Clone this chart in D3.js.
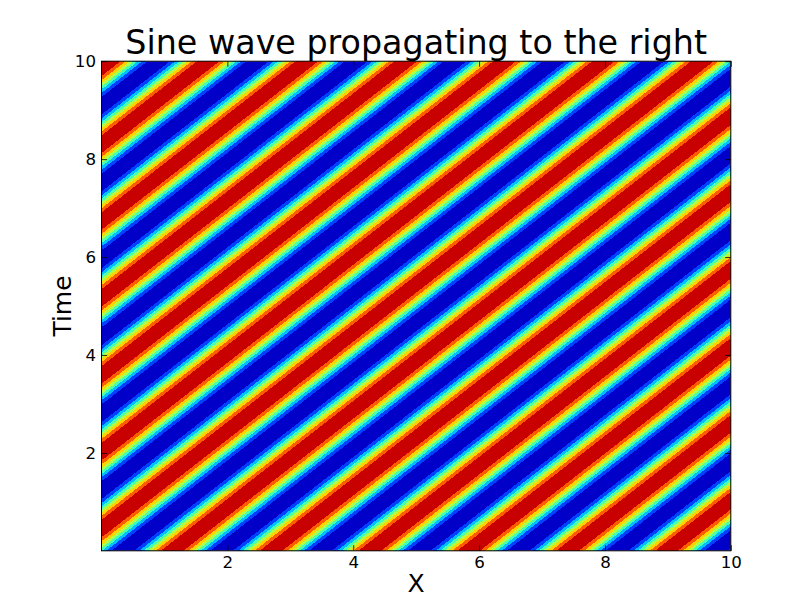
<!DOCTYPE html>
<html>
<head>
<meta charset="utf-8">
<script src="https://cdn.jsdelivr.net/npm/d3@7"></script>
<style>
  body { margin: 0; background: #fff; }
  text { font-family: "DejaVu Sans", sans-serif; fill: #000; }
</style>
</head>
<body>
<svg id="chart" width="812" height="612"></svg>
<script>
// wave: crests repeat every ~1.57 in x and ~1.57 in time
var waveNumber = 4;
var angularFreq = 4;
var phase = 1.8;
var xExtent = [0, 10];
var tExtent = [0, 10];
var levels = [-1, -0.75, -0.5, -0.25, 0, 0.25, 0.5, 0.75, 1];
var xTicks = [2, 4, 6, 8, 10];
var tTicks = [2, 4, 6, 8, 10];
var gridSize = 240;

// jet colours for the 8 filled bands, lowest first
var palette = ['#0000c8', '#0040ff', '#00bfff', '#48ffaf', '#afff48', '#ffd200', '#ff5c00', '#c80000'];

var svg = d3.select('#chart');
var margin = {top: 61.2, right: 81.2, bottom: 61.2, left: 101.5};
var width = 812 - margin.left - margin.right;
var height = 612 - margin.top - margin.bottom;

var x = d3.scaleLinear().domain(xExtent).range([0, width]);
var y = d3.scaleLinear().domain(tExtent).range([height, 0]);

var g = svg.append('g')
    .attr('transform', 'translate(' + margin.left + ',' + margin.top + ')');

// sample the wave on a grid (values sit at cell centres)
var dx = (xExtent[1] - xExtent[0]) / gridSize;
var dt = (tExtent[1] - tExtent[0]) / gridSize;
var values = new Array(gridSize * gridSize);
for (var j = 0; j < gridSize; j++) {
    var t = tExtent[0] + (j + 0.5) * dt;
    for (var i = 0; i < gridSize; i++) {
        var xv = xExtent[0] + (i + 0.5) * dx;
        values[j * gridSize + i] = Math.cos(waveNumber * xv - angularFreq * t + phase);
    }
}

var contours = d3.contours().size([gridSize, gridSize]).smooth(true);

// grid coords -> data -> pixels
var gridToPixels = d3.geoTransform({
    point: function(gx, gy) {
        this.stream.point(x(xExtent[0] + gx * dx), y(tExtent[0] + gy * dt));
    }
});
var path = d3.geoPath(gridToPixels);

g.append('clipPath').attr('id', 'plot-clip')
    .append('rect').attr('width', width).attr('height', height);

var field = g.append('g').attr('clip-path', 'url(#plot-clip)');

// lowest band fills everything, higher bands are stacked on top
field.append('rect')
    .attr('x', x(xExtent[0]))
    .attr('y', y(tExtent[1]))
    .attr('width', x(xExtent[1]) - x(xExtent[0]))
    .attr('height', y(tExtent[0]) - y(tExtent[1]))
    .attr('fill', palette[0]);

for (var b = 1; b < levels.length - 1; b++) {
    field.append('path')
        .attr('d', path(contours.contour(values, levels[b])))
        .attr('fill', palette[b])
        .attr('shape-rendering', 'crispEdges');
}

// axes: inward ticks on all four sides, labels bottom and left only
var tickLen = 5.6;
function styleAxis(sel) {
    sel.select('.domain').remove();
    sel.selectAll('.tick line').attr('stroke', '#000').attr('stroke-width', 0.8);
    sel.selectAll('text').style('font-size', '16.67px').style('font-family', '"DejaVu Sans", sans-serif');
}

g.append('g')
    .attr('transform', 'translate(0,' + height + ')')
    .call(d3.axisBottom(x).tickValues(xTicks).tickSizeInner(-tickLen).tickSizeOuter(0).tickPadding(5.7))
    .call(styleAxis);

g.append('g')
    .call(d3.axisLeft(y).tickValues(tTicks).tickSizeInner(-tickLen).tickSizeOuter(0).tickPadding(5.5))
    .call(styleAxis);

g.append('g')
    .call(d3.axisTop(x).tickValues(xTicks).tickSizeInner(-tickLen).tickSizeOuter(0).tickFormat(''))
    .call(styleAxis);

g.append('g')
    .attr('transform', 'translate(' + width + ',0)')
    .call(d3.axisRight(y).tickValues(tTicks).tickSizeInner(-tickLen).tickSizeOuter(0).tickFormat(''))
    .call(styleAxis);

// frame
g.append('rect')
    .attr('width', width)
    .attr('height', height)
    .attr('fill', 'none')
    .attr('stroke', '#000')
    .attr('stroke-width', 1);

// titles
svg.append('text')
    .attr('x', margin.left + width / 2)
    .attr('y', 54.3)
    .attr('text-anchor', 'middle')
    .style('font-size', '33.33px')
    .text('Sine wave propagating to the right');

svg.append('text')
    .attr('x', margin.left + width / 2)
    .attr('y', 592)
    .attr('text-anchor', 'middle')
    .style('font-size', '25px')
    .text('X');

svg.append('text')
    .attr('transform', 'translate(71,' + (margin.top + height / 2) + ') rotate(-90)')
    .attr('text-anchor', 'middle')
    .style('font-size', '25px')
    .text('Time');
</script>
</body>
</html>
